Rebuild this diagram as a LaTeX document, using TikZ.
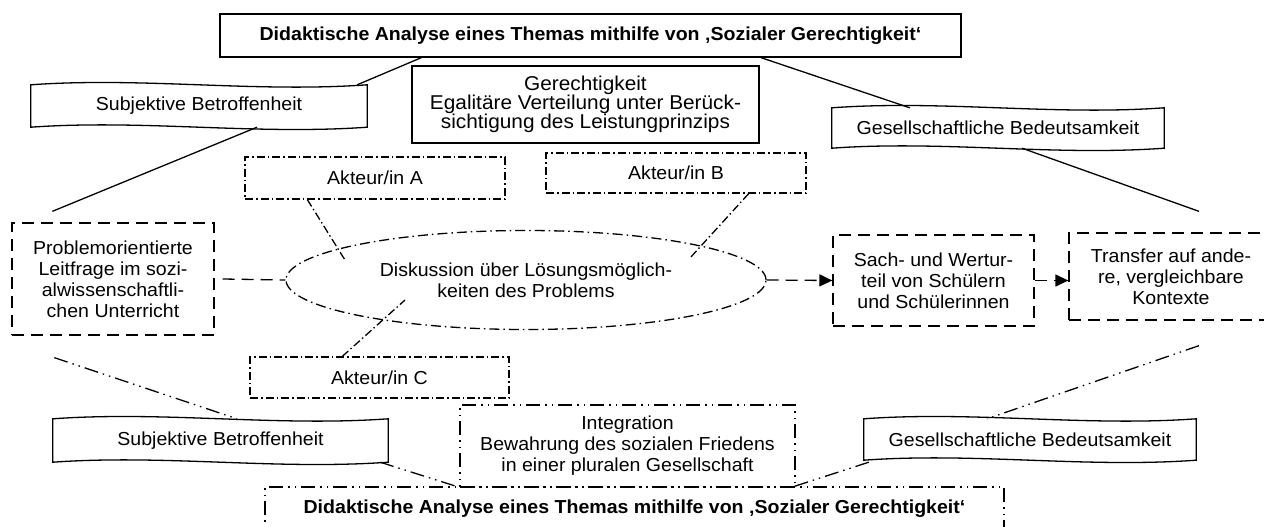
\documentclass[tikz,border=0pt]{standalone}
\usepackage{fontspec}
\setmainfont{Liberation Sans}[FakeStretch=1.04]
\usetikzlibrary{arrows.meta,calc,shapes.geometric}
\newcommand\waveoutline[1]{%
  \draw[ln] (#1.north west)
    .. controls ($(#1.north west)!0.333!(#1.north east)+(0,-8)$) and ($(#1.north west)!0.667!(#1.north east)+(0,8)$) .. (#1.north east)
    -- (#1.south east)
    .. controls ($(#1.south west)!0.667!(#1.south east)+(0,8)$) and ($(#1.south west)!0.333!(#1.south east)+(0,-8)$) .. (#1.south west)
    -- cycle;}
\begin{document}
\begin{tikzpicture}[x=1pt,y=-1pt,
  every node/.style={font=\fontsize{18.8}{21}\selectfont, inner sep=0pt, align=center},
  ln/.style={line width=1.3pt, black},
  solidbox/.style={ln, draw, rectangle},
  dashbox/.style={ln, draw, rectangle, dash pattern=on 12pt off 7pt},
  dotbox/.style={ln, draw, rectangle, dash pattern=on 8pt off 3pt on 1.5pt off 3pt},
  dotdotbox/.style={ln, draw, rectangle, dash pattern=on 14pt off 5pt on 1.5pt off 5pt on 1.5pt off 5pt},
  ellbox/.style={ln, draw, ellipse, dash pattern=on 10pt off 4pt on 1.5pt off 4pt, minimum width=480pt, minimum height=99pt},
  wavebox/.style={rectangle},
  solidline/.style={ln},
  dashline/.style={ln, dash pattern=on 12pt off 7pt},
  dotline/.style={ln, dash pattern=on 8pt off 3pt on 1.5pt off 3pt},
  dotdotline/.style={ln, dash pattern=on 14pt off 5pt on 1.5pt off 5pt on 1.5pt off 5pt},
  tip/.style={-{Triangle[length=13pt,width=12pt]}},
  boldfont/.style={font=\bfseries\fontsize{18.8}{21}\selectfont}
]
\useasboundingbox (0,0) rectangle (1264,527);
\fill[white] (0,0) rectangle (1264,527);
\clip (0,0) rectangle (1264,527);

% nodes
\node[solidbox, boldfont, minimum width=741pt, minimum height=43pt] (title) at (590.5,35.5)
  {Didaktische Analyse eines Themas mithilfe von ‚Sozialer Gerechtigkeit‘};
\node[solidbox, minimum width=347pt, minimum height=77pt, font=\fontsize{20}{19}\selectfont] (gerecht) at (585.5,104.5)
  {Gerechtigkeit\\Egalitäre Verteilung unter Berück-\\sichtigung des Leistungprinzips};
\node[wavebox, minimum width=336pt, minimum height=42pt] (subjT) at (199,106) {Subjektive Betroffenheit};
\node[wavebox, minimum width=332pt, minimum height=40pt] (gesT) at (998,128) {Gesellschaftliche Bedeutsamkeit};
\node[dotbox, minimum width=260pt, minimum height=42pt] (akA) at (375,178) {Akteur/in A};
\node[dotbox, minimum width=260pt, minimum height=40pt] (akB) at (676,173) {Akteur/in B};
\node[dashbox, minimum width=202pt, minimum height=112pt] (problem) at (113,279)
  {Problemorientierte\\Leitfrage im sozi-\\alwissenschaftli-\\chen Unterricht};
\node[ellbox] (ell) at (526,280) {Diskussion über Lösungsmöglich-\\keiten des Problems};
\node[dashbox, minimum width=201pt, minimum height=91pt] (sach) at (933.5,280.5)
  {Sach- und Wertur-\\teil von Schülern\\und Schülerinnen};
\node[dashbox, minimum width=204pt, minimum height=87pt] (transfer) at (1171,276.5)
  {Transfer auf ande-\\re, vergleichbare\\Kontexte};
\node[dotbox, minimum width=259pt, minimum height=41pt] (akC) at (379.5,377.5) {Akteur/in C};
\node[dotdotbox, minimum width=335pt, minimum height=82pt] (integ) at (627.5,446)
  {Integration\\Bewahrung des sozialen Friedens\\in einer pluralen Gesellschaft};
\node[wavebox, minimum width=335pt, minimum height=43pt] (subjB) at (220.5,440.5) {Subjektive Betroffenheit};
\node[wavebox, minimum width=332pt, minimum height=41pt] (gesB) at (1030,439.5) {Gesellschaftliche Bedeutsamkeit};
\node[dotdotbox, boldfont, minimum width=739pt, minimum height=44pt] (bottom) at (634.5,509)
  {Didaktische Analyse eines Themas mithilfe von ‚Sozialer Gerechtigkeit‘};

\waveoutline{subjT}
\waveoutline{gesT}
\waveoutline{subjB}
\waveoutline{gesB}

\coordinate (eA) at (345,260);
\coordinate (eB) at (690,258);
\coordinate (eC) at (405,300);

% connectors
\draw[solidline] ($(title.south west)+(202,0)$) -- ($(subjT.north east)+(-10,0)$);
\draw[solidline] ($(subjT.south)+(58,0)$) -- ($(problem.north west)+(41,-11)$);
\draw[solidline] ($(title.south)+(170.5,0)$) -- ($(gesT.north west)+(78,0)$);
\draw[solidline] ($(gesT.south)+(24,0)$) -- ($(transfer.north)+(28,-21)$);

\draw[dashline] ($(problem.east)+(8,0)$) -- (ell.west);
\draw[dashline, tip] (ell.east) -- (sach.west);
\draw[dashline, tip] (sach.east) -- (sach.east -| transfer.west);

\draw[dotline] ($(akA.south west)+(63,0)$) -- (eA);
\draw[dotline] ($(akB.south east)+(-58,0)$) -- (eB);
\draw[dotline] ($(akC.north west)+(93,0)$) -- (eC);

\draw[dotdotline] ($(problem.south west)+(43,22)$) -- ($(subjB.north)+(16.5,0)$);
\draw[dotdotline] ($(subjB.south east)+(-8,0)$) -- ($(bottom.north west)+(192,0)$);
\draw[dotdotline] ($(gesB.south west)+(5,2)$) -- ($(bottom.north west)+(530,0)$);
\draw[dotdotline] ($(transfer.south)+(28,25)$) -- ($(gesB.north)+(-43,0)$);
\end{tikzpicture}
\end{document}
